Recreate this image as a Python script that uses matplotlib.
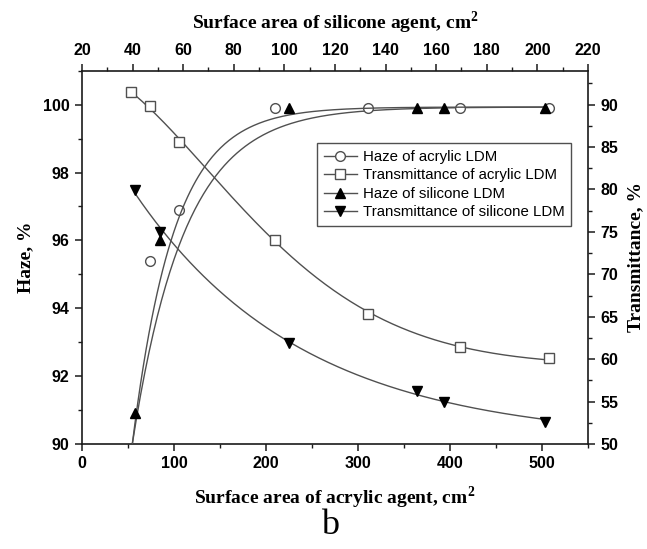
import numpy as np
import matplotlib
matplotlib.use("Agg")
import matplotlib.pyplot as plt
from matplotlib.lines import Line2D
from matplotlib.ticker import MultipleLocator

# acrylic LDM, bottom axis (cm2 of acrylic agent)
acrylic_area = [53, 74, 106, 210, 311, 411, 508]
haze_acrylic = [np.nan, 95.4, 96.9, 99.9, 99.9, 99.9, 99.9]
trans_acrylic = [91.5, 89.8, 85.6, 74.1, 65.3, 61.4, 60.1]

# silicone LDM, top axis (cm2 of silicone agent)
silicone_area = [41, 51, 102, 152.5, 163, 203]
haze_silicone = [90.9, 96.0, 99.9, 99.9, 99.9, 99.9]
trans_silicone = [79.9, 75.0, 61.9, 56.3, 55.0, 52.6]

# haze fits: plateau, depth, rate, onset  ->  y = plateau - depth*exp(-rate*(x-onset))
haze_fit_acrylic = [99.93, 9.93, 0.0175, 54.7]
haze_fit_silicone = [99.93, 9.93, 0.0605, 39.9]

labels = ["Haze of acrylic LDM", "Transmittance of acrylic LDM",
          "Haze of silicone LDM", "Transmittance of silicone LDM"]

GRAY = "#505050"
SPINE = "#1a1a1a"

plt.rcParams["font.family"] = ["Liberation Sans", "DejaVu Sans"]
plt.rcParams["font.weight"] = "bold"
plt.rcParams["mathtext.fontset"] = "custom"
plt.rcParams["mathtext.bf"] = "Liberation Serif:bold"
plt.rcParams["mathtext.rm"] = "Liberation Serif:bold"


def haze_curve(params, x):
    top, depth, rate, onset = params
    return top - depth * np.exp(-rate * (x - onset))


def decay_fit(x, y):
    # y = c + a*exp(-k*x**p); p and k by grid search, c and a by least squares
    x = np.asarray(x, float)
    y = np.asarray(y, float)
    best = None
    for p in np.linspace(1.0, 2.5, 16):
        for k in np.logspace(-7, -0.5, 600):
            A = np.column_stack([np.ones_like(x), np.exp(-k * x ** p)])
            coef = np.linalg.lstsq(A, y, rcond=None)[0]
            err = np.sum((A @ coef - y) ** 2)
            if best is None or err < best[0]:
                best = (err, p, k, coef)
    _, p, k, (c, a) = best
    return lambda t: c + a * np.exp(-k * t ** p)


fig = plt.figure(figsize=(6.47, 5.49), dpi=100)
ax = fig.add_axes([0.1267, 0.1913, 0.7821, 0.6799])
axr = ax.twinx()
axt = ax.twiny()
axtr = axt.twinx()

ax.set_xlim(0, 550)
ax.set_ylim(90, 101)
axr.set_ylim(50, 94)
axt.set_xlim(20, 220)
axtr.set_ylim(50, 94)

line_kw = dict(color=GRAY, lw=1.0)

# fitted curves
xa = np.linspace(haze_fit_acrylic[3], max(acrylic_area), 300)
ax.plot(xa, haze_curve(haze_fit_acrylic, xa), **line_kw)
xs = np.linspace(haze_fit_silicone[3], max(silicone_area), 300)
axt.plot(xs, haze_curve(haze_fit_silicone, xs), **line_kw)

ta = decay_fit(acrylic_area, trans_acrylic)
xa2 = np.linspace(min(acrylic_area), max(acrylic_area), 300)
axr.plot(xa2, ta(xa2), **line_kw)
ts = decay_fit(silicone_area, trans_silicone)
xs2 = np.linspace(min(silicone_area), max(silicone_area), 300)
axtr.plot(xs2, ts(xs2), **line_kw)

# measured points
open_kw = dict(ls="none", mfc="white", mec=GRAY, mew=1.0, ms=7, zorder=5)
ax.plot(acrylic_area, haze_acrylic, marker="o", **open_kw)
axr.plot(acrylic_area, trans_acrylic, marker="s", **open_kw)
fill_kw = dict(ls="none", color="black", ms=7.5, zorder=5)
axt.plot(silicone_area, haze_silicone, marker="^", **fill_kw)
axtr.plot(silicone_area, trans_silicone, marker="v", **fill_kw)

# ticks
ax.xaxis.set_major_locator(MultipleLocator(100))
ax.xaxis.set_minor_locator(MultipleLocator(50))
ax.yaxis.set_major_locator(MultipleLocator(2))
ax.yaxis.set_minor_locator(MultipleLocator(1))
axr.yaxis.set_major_locator(MultipleLocator(5))
axr.yaxis.set_minor_locator(MultipleLocator(2.5))
axt.xaxis.set_major_locator(MultipleLocator(20))
axt.xaxis.set_minor_locator(MultipleLocator(10))
axtr.yaxis.set_visible(False)

for a in (ax, axr, axt):
    a.tick_params(which="major", direction="out", length=5, width=1.1,
                  color=SPINE, labelsize=11.5, pad=4)
    a.tick_params(which="minor", direction="out", length=3, width=1.0, color=SPINE)

for a in (axr, axt, axtr):
    for s in a.spines.values():
        s.set_visible(False)
for s in ax.spines.values():
    s.set_linewidth(1.2)
    s.set_color(SPINE)

serif = dict(fontfamily="Liberation Serif", fontweight="bold", fontsize=14)
ax.set_xlabel(r"Surface area of acrylic agent, cm$^\mathbf{2}$", labelpad=9, **serif)
axt.set_xlabel(r"Surface area of silicone agent, cm$^\mathbf{2}$", labelpad=10, **serif)
ax.set_ylabel("Haze, %", labelpad=6, **serif)
axr.set_ylabel("Transmittance, %", labelpad=6, **serif)

handles = [
    Line2D([], [], color=GRAY, lw=1.0, marker="o", mfc="white", mec=GRAY, ms=7),
    Line2D([], [], color=GRAY, lw=1.0, marker="s", mfc="white", mec=GRAY, ms=7),
    Line2D([], [], color=GRAY, lw=1.0, marker="^", mfc="black", mec="black", ms=7.5),
    Line2D([], [], color=GRAY, lw=1.0, marker="v", mfc="black", mec="black", ms=7.5),
]
leg = axtr.legend(handles, labels, loc="upper right", bbox_to_anchor=(0.982, 0.826),
                  prop=dict(family="Liberation Sans", weight="normal", size=10.8),
                  frameon=True, fancybox=False, framealpha=1, edgecolor=GRAY,
                  handlelength=2.2, labelspacing=0.3, borderpad=0.45,
                  handletextpad=0.4)
leg.get_frame().set_linewidth(1.0)

fig.text(0.51, 0.042, "b", fontfamily="Liberation Serif", fontweight="normal",
         fontsize=26, ha="center", va="center")

fig.savefig("out.png", dpi=100)
